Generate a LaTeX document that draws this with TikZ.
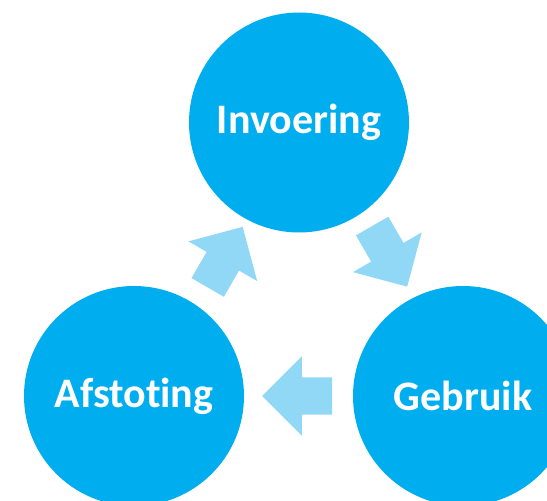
\documentclass[tikz,border=0pt]{standalone}
\usepackage{fontspec}
\setmainfont{Carlito}[Ligatures=NoCommon]
\usetikzlibrary{shapes.arrows,calc}
\definecolor{circblue}{RGB}{0,174,239}
\definecolor{arrblue}{RGB}{145,216,246}
\begin{document}
\begin{tikzpicture}[x=1pt, y=1pt, main/.style = {circle, fill=circblue, minimum size=220pt, inner sep=0pt, text=white, font=\fontsize{42}{50}\selectfont\bfseries}, flow/.style = {single arrow, fill=arrblue, minimum height=70pt, minimum width=79pt, single arrow head extend=21pt, single arrow tip angle=90, inner xsep=0pt, inner ysep=18.5pt}]
\useasboundingbox (0,0) rectangle (547,501);
\clip (0,0) rectangle (547,501);
\node[main] (inv) at (299,378.5) {Invoering};
\node[main] (afs) at (134,105) {Afstoting};
\node[main] (geb) at (463,105) {Gebruik};
\node[flow, rotate=60] (a1) at ($(afs)!0.5!(inv)+(4,-6)$) {};
\node[flow, rotate=-60] (a2) at ($(inv)!0.5!(geb)+(4,11)$) {};
\node[flow, rotate=180] (a3) at ($(geb)!0.5!(afs)+(8,0)$) {};
\end{tikzpicture}
\end{document}
